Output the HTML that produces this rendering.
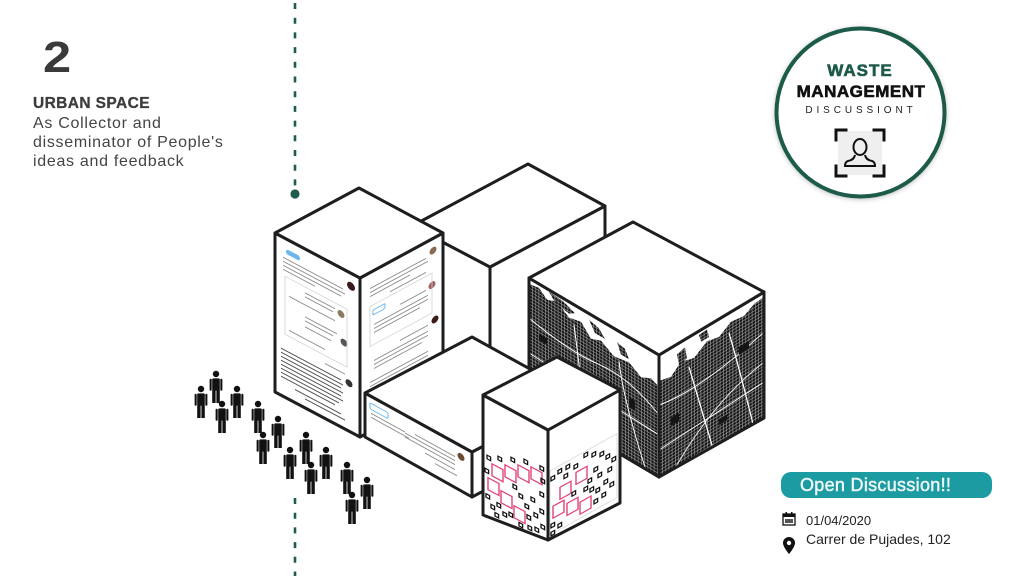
<!DOCTYPE html>
<html><head><meta charset="utf-8"><style>
html,body{margin:0;padding:0;background:#fff;}
body{width:1024px;height:576px;overflow:hidden;}
svg{display:block;}
</style></head><body>
<svg width="1024" height="576" viewBox="0 0 1024 576" xmlns="http://www.w3.org/2000/svg" font-family="Liberation Sans, sans-serif">
<defs>
  <g id="pp">
    <circle cx="0" cy="0" r="3.2"/>
    <rect x="-3.8" y="4.4" width="7.6" height="12.2" rx="1.2"/>
    <rect x="-6.4" y="4.8" width="2.1" height="12" rx="1"/>
    <rect x="4.3" y="4.8" width="2.1" height="12" rx="1"/>
    <rect x="-3.8" y="16" width="3.4" height="13"/>
    <rect x="0.4" y="16" width="3.4" height="13"/>
  </g>
  <pattern id="grid" width="3.2" height="3.2" patternUnits="userSpaceOnUse">
    <path d="M0 0.3H3.2M0.3 0V3.2" stroke="#fff" stroke-width="0.55" opacity="0.85"/>
  </pattern>
  <clipPath id="mapL"><polygon points="529,278 659,355 659,477 529,400"/></clipPath>
  <clipPath id="mapR"><polygon points="659,355 764,292 764,418 659,477"/></clipPath>
  <clipPath id="cubeL"><polygon points="483,395 548,430 548,540 483,515"/></clipPath>
  <clipPath id="cubeR"><polygon points="548,430 620,390 620,503 548,540"/></clipPath>
  <filter id="sh" x="-20%" y="-20%" width="140%" height="140%">
    <feDropShadow dx="0" dy="1" stdDeviation="2.5" flood-color="#000" flood-opacity="0.25"/>
  </filter>
</defs>

<!-- Left text -->
<text x="43" y="72" font-size="44" font-weight="bold" fill="#3a3a3a" transform="translate(43,0) scale(1.15,1) translate(-43,0)">2</text>
<text x="33" y="108" font-size="15.5" font-weight="bold" fill="#3c3c3c" stroke="#3c3c3c" stroke-width="0.3" letter-spacing="0.4">URBAN SPACE</text>
<g font-size="16" fill="#444" letter-spacing="0.7">
  <text x="33" y="128">As Collector and</text>
  <text x="33" y="147">disseminator of People's</text>
  <text x="33" y="166">ideas and feedback</text>
</g>

<!-- dashed line -->
<line x1="295" y1="3" x2="295" y2="188" stroke="#1f5c4d" stroke-width="2.6" stroke-dasharray="6 8.7"/>
<circle cx="295" cy="194" r="4.6" fill="#1f5c4d"/>
<line x1="295" y1="498" x2="295" y2="576" stroke="#1f5c4d" stroke-width="2.6" stroke-dasharray="6 8.7"/>

<g stroke="#1e1e1e" stroke-width="3" stroke-linejoin="round" fill="#fff">
  <!-- back box -->
  <polygon points="412,226 490,267 490,420 412,380"/>
  <polygon points="490,267 605,206 605,360 490,420"/>
  <polygon points="528,164 605,206 490,267 412,226"/>

  <!-- map box -->
  <polygon points="529,278 659,355 659,477 529,400"/>
  <polygon points="659,355 764,292 764,418 659,477"/>
</g>

<!-- map textures -->
<g clip-path="url(#mapL)">
  <g transform="matrix(1,0.592,0,1,529,278)">
    <polygon fill="#151515" points="0,6 10,4 18,11 28,7 40,16 52,13 62,24 72,20 85,28 100,25 112,33 122,28 130,32 130,130 0,130"/>
    <polygon fill="#151515" points="20,2 34,3 46,8 40,12 26,9"/>
    <polygon fill="#151515" points="60,6 70,9 76,16 66,16"/>
    <polygon fill="#151515" points="88,12 96,14 100,22 92,22"/>
    <rect x="0" y="0" width="130" height="130" fill="url(#grid)" opacity="0.75"/>
    <g stroke="#fff" fill="none" stroke-width="1.1">
      <path d="M0 40 Q40 50 70 45 T130 60"/>
      <path d="M45 20 L60 130"/>
      <path d="M0 75 L130 80"/>
      <path d="M90 30 Q95 70 120 130"/>
    </g>
    <g fill="#151515">
      <rect x="10" y="50" width="8" height="6"/><rect x="70" y="95" width="10" height="8"/>
      <rect x="100" y="60" width="6" height="10"/>
    </g>
  </g>
</g>
<g clip-path="url(#mapR)">
  <g transform="matrix(1,-0.6,0,1,659,355)">
    <polygon fill="#151515" points="0,26 12,29 22,20 35,24 48,15 60,18 72,10 85,12 95,6 105,5 105,130 0,130"/>
    <polygon fill="#151515" points="18,10 26,8 28,20 20,22"/>
    <polygon fill="#151515" points="40,4 48,3 50,12 42,12"/>
    <rect x="0" y="0" width="105" height="130" fill="url(#grid)" opacity="0.75"/>
    <g stroke="#fff" fill="none" stroke-width="1.1">
      <path d="M0 50 Q40 60 105 40"/>
      <path d="M30 30 L55 130"/>
      <path d="M0 95 L105 90"/>
      <path d="M70 20 Q80 60 95 130"/>
      <path d="M10 130 Q50 80 105 70"/>
    </g>
    <g fill="#151515">
      <rect x="12" y="70" width="8" height="8"/><rect x="80" y="40" width="10" height="8"/>
      <rect x="60" y="100" width="8" height="6"/>
    </g>
  </g>
</g>
<g stroke="#1e1e1e" stroke-width="3" stroke-linejoin="round" fill="none">
  <polygon points="529,278 659,355 659,477 529,400"/>
  <polygon points="659,355 764,292 764,418 659,477"/>
</g>
<polygon points="633,222 764,292 659,355 529,278" fill="#fff" stroke="#1e1e1e" stroke-width="3" stroke-linejoin="round"/>

<!-- tall tweet box -->
<g stroke="#1e1e1e" stroke-width="3" stroke-linejoin="round" fill="#fff">
  <polygon points="275,233 360,278 360,437 275,392"/>
  <polygon points="360,278 443,233 443,392 360,437"/>
  <polygon points="359,188 443,233 360,278 275,233"/>
</g>
<!-- tweets left face -->
<g transform="matrix(1,0.53,0,1,275,233)">
  <rect x="11" y="10" width="14" height="5" rx="2.5" fill="#6bb6ea"/>
  <circle cx="76" cy="13" r="4" fill="#3a1a1a"/>
  <circle cx="66" cy="46" r="3.5" fill="#8a7a60"/>
  <circle cx="69" cy="73" r="3.5" fill="#555"/>
  <circle cx="74" cy="111" r="3.5" fill="#333"/>
  <g stroke="#8a8a8a" stroke-width="1">
    <line x1="8" y1="20" x2="68" y2="20"/><line x1="8" y1="24" x2="70" y2="24"/>
    <line x1="8" y1="28" x2="66" y2="28"/><line x1="8" y1="32" x2="40" y2="32"/>
    <line x1="30" y1="44" x2="60" y2="44"/><line x1="30" y1="48" x2="58" y2="48"/>
    <line x1="14" y1="56" x2="60" y2="56"/><line x1="30" y1="68" x2="62" y2="68"/>
    <line x1="30" y1="72" x2="58" y2="72"/><line x1="30" y1="78" x2="56" y2="78"/>
    <line x1="14" y1="90" x2="50" y2="90"/><line x1="50" y1="104" x2="70" y2="104"/>
  </g>
  <rect x="10" y="38" width="62" height="58" fill="none" stroke="#cfcfcf" stroke-width="0.8"/>
  <g stroke="#555" stroke-width="1.1">
    <line x1="6" y1="112" x2="66" y2="112"/><line x1="6" y1="116" x2="68" y2="116"/>
    <line x1="6" y1="120" x2="66" y2="120"/><line x1="6" y1="124" x2="68" y2="124"/>
    <line x1="6" y1="128" x2="66" y2="128"/><line x1="6" y1="132" x2="68" y2="132"/>
    <line x1="6" y1="136" x2="64" y2="136"/><line x1="6" y1="140" x2="60" y2="140"/>
    <line x1="20" y1="146" x2="66" y2="146"/><line x1="30" y1="150" x2="70" y2="150"/>
  </g>
</g>
<!-- tweets right face -->
<g transform="matrix(1,-0.54,0,1,360,278)">
  <circle cx="73" cy="12" r="3.5" fill="#8a6a50"/>
  <circle cx="72" cy="46" r="3.5" fill="#a06060"/>
  <circle cx="75" cy="82" r="3.5" fill="#3a1a1a"/>
  <rect x="13" y="39" width="12" height="5" rx="1" fill="none" stroke="#6bb6ea" stroke-width="1"/>
  <g stroke="#8a8a8a" stroke-width="1">
    <line x1="10" y1="16" x2="66" y2="16"/><line x1="10" y1="20" x2="68" y2="20"/>
    <line x1="10" y1="24" x2="50" y2="24"/><line x1="30" y1="30" x2="66" y2="30"/>
    <line x1="40" y1="48" x2="66" y2="48"/><line x1="14" y1="54" x2="68" y2="54"/>
    <line x1="14" y1="58" x2="68" y2="58"/><line x1="14" y1="62" x2="60" y2="62"/>
    <line x1="40" y1="84" x2="68" y2="84"/><line x1="14" y1="90" x2="68" y2="90"/>
    <line x1="14" y1="94" x2="68" y2="94"/><line x1="14" y1="98" x2="62" y2="98"/>
    <line x1="10" y1="110" x2="68" y2="110"/><line x1="10" y1="114" x2="68" y2="114"/>
    <line x1="10" y1="118" x2="60" y2="118"/><line x1="20" y1="124" x2="50" y2="124"/>
  </g>
  <rect x="10" y="34" width="62" height="40" fill="none" stroke="#d0d0d0" stroke-width="0.8"/>
</g>

<!-- lower tweet box -->
<g stroke="#1e1e1e" stroke-width="3" stroke-linejoin="round" fill="#fff">
  <polygon points="365,393 472,452 472,497 365,437"/>
  <polygon points="472,452 579,396 579,441 472,497"/>
  <polygon points="472,337 579,396 472,452 365,393"/>
</g>
<g transform="matrix(1,0.551,0,1,365,393)">
  <rect x="5" y="7" width="18" height="6" rx="1.5" fill="none" stroke="#6bb6ea" stroke-width="1"/>
  <circle cx="96" cy="11" r="3.5" fill="#6a4a30"/>
  <g stroke="#8a8a8a" stroke-width="1">
    <line x1="6" y1="17" x2="40" y2="17"/><line x1="6" y1="21" x2="44" y2="21"/>
    <line x1="50" y1="14" x2="90" y2="14"/><line x1="40" y1="18" x2="90" y2="18"/>
    <line x1="40" y1="22" x2="90" y2="22"/><line x1="60" y1="27" x2="90" y2="27"/>
    <line x1="70" y1="32" x2="92" y2="32"/>
  </g>
</g>

<!-- cube -->
<g stroke="#1e1e1e" stroke-width="3" stroke-linejoin="round" fill="#fff">
  <polygon points="483,395 548,430 548,540 483,515"/>
  <polygon points="548,430 620,390 620,503 548,540"/>
  <polygon points="557,357 620,390 548,430 483,395"/>
</g>
<g clip-path="url(#cubeL)">
<g transform="matrix(1,0.538,0,1,483,395)">
  <g fill="none" stroke="#e2437c" stroke-width="1.4">
    <rect x="9" y="64" width="11" height="12"/><rect x="22" y="58" width="11" height="12"/>
    <rect x="35" y="51" width="11" height="12"/><rect x="48" y="46" width="11" height="12"/>
    <rect x="5" y="80" width="11" height="12"/><rect x="18" y="86" width="11" height="12"/>
    <rect x="31" y="94" width="11" height="12"/>
  </g>
  <g fill="none" stroke="#111" stroke-width="1.3">
    <rect x="4" y="58" width="3.6" height="3.6"/><rect x="15" y="53" width="3.6" height="3.6"/>
    <rect x="28" y="47" width="3.6" height="3.6"/><rect x="41" y="42" width="3.6" height="3.6"/>
    <rect x="57" y="40" width="3.6" height="3.6"/><rect x="58" y="52" width="3.6" height="3.6"/>
    <rect x="3" y="97" width="3.6" height="3.6"/><rect x="8" y="105" width="3.6" height="3.6"/>
    <rect x="14" y="100" width="3.6" height="3.6"/><rect x="20" y="106" width="3.6" height="3.6"/>
    <rect x="26" y="103" width="3.6" height="3.6"/><rect x="44" y="96" width="3.6" height="3.6"/>
    <rect x="51" y="90" width="3.6" height="3.6"/><rect x="57" y="83" width="3.6" height="3.6"/>
    <rect x="58" y="98" width="3.6" height="3.6"/><rect x="52" y="104" width="3.6" height="3.6"/>
    <rect x="45" y="106" width="3.6" height="3.6"/><rect x="42" y="86" width="3.6" height="3.6"/>
    <rect x="36" y="79" width="3.6" height="3.6"/><rect x="48" y="76" width="3.6" height="3.6"/>
    <rect x="57" y="66" width="3.6" height="3.6"/><rect x="30" y="73" width="3.6" height="3.6"/>
    <rect x="2" y="72" width="3.6" height="3.6"/><rect x="36" y="108" width="3.6" height="3.6"/>
    <rect x="12" y="111" width="3.6" height="3.6"/>
  </g>
</g>
</g>
<g clip-path="url(#cubeR)">
<g transform="matrix(1,-0.556,0,1,548,434)">
  <rect x="2" y="38" width="67" height="64" fill="none" stroke="#d4d4d4" stroke-width="0.8"/>
  <g fill="none" stroke="#e2437c" stroke-width="1.4">
    <rect x="28" y="54" width="11" height="12"/><rect x="12" y="60" width="11" height="12"/>
    <rect x="5" y="75" width="11" height="12"/><rect x="19" y="80" width="11" height="12"/>
    <rect x="32" y="86" width="11" height="12"/>
  </g>
  <g fill="none" stroke="#111" stroke-width="1.3">
    <rect x="3" y="45" width="3.6" height="3.6"/><rect x="10" y="42" width="3.6" height="3.6"/>
    <rect x="18" y="42" width="3.6" height="3.6"/><rect x="26" y="46" width="3.6" height="3.6"/>
    <rect x="36" y="40" width="3.6" height="3.6"/><rect x="44" y="44" width="3.6" height="3.6"/>
    <rect x="52" y="48" width="3.6" height="3.6"/><rect x="58" y="54" width="3.6" height="3.6"/>
    <rect x="64" y="60" width="3.6" height="3.6"/><rect x="46" y="60" width="3.6" height="3.6"/>
    <rect x="40" y="68" width="3.6" height="3.6"/><rect x="50" y="68" width="3.6" height="3.6"/>
    <rect x="60" y="68" width="3.6" height="3.6"/><rect x="56" y="78" width="3.6" height="3.6"/>
    <rect x="48" y="82" width="3.6" height="3.6"/><rect x="62" y="84" width="3.6" height="3.6"/>
    <rect x="46" y="92" width="3.6" height="3.6"/><rect x="54" y="90" width="3.6" height="3.6"/>
    <rect x="3" y="92" width="3.6" height="3.6"/><rect x="10" y="96" width="3.6" height="3.6"/>
    <rect x="3" y="100" width="3.6" height="3.6"/><rect x="42" y="78" width="3.6" height="3.6"/>
    <rect x="16" y="50" width="3.6" height="3.6"/><rect x="24" y="72" width="3.6" height="3.6"/>
    <rect x="36" y="74" width="3.6" height="3.6"/>
  </g>
</g>
</g>

<!-- people -->
<g fill="#111">
  <use href="#pp" x="216" y="374"/><use href="#pp" x="201" y="389"/>
  <use href="#pp" x="237" y="389"/><use href="#pp" x="222" y="404"/>
  <use href="#pp" x="258" y="404"/><use href="#pp" x="278" y="419"/>
  <use href="#pp" x="263" y="435"/><use href="#pp" x="306" y="435"/>
  <use href="#pp" x="290" y="450"/><use href="#pp" x="326" y="450"/>
  <use href="#pp" x="311" y="465"/><use href="#pp" x="347" y="465"/>
  <use href="#pp" x="367" y="480"/><use href="#pp" x="352" y="495"/>
</g>

<!-- circle badge -->
<circle cx="860.5" cy="112.5" r="84" fill="#fff" stroke="#1d5a4a" stroke-width="4" filter="url(#sh)"/>
<text x="860" y="76" text-anchor="middle" font-size="17" font-weight="bold" fill="#1d5a4a" stroke="#1d5a4a" stroke-width="0.6" letter-spacing="1">WASTE</text>
<text x="861" y="97" text-anchor="middle" font-size="17" font-weight="bold" fill="#111" stroke="#111" stroke-width="0.6" letter-spacing="0.5">MANAGEMENT</text>
<text x="861" y="113" text-anchor="middle" font-size="10" fill="#222" letter-spacing="3.9">DISCUSSIONT</text>
<rect x="838" y="131" width="44" height="44" fill="#efefef"/>
<g stroke="#111" stroke-width="3" fill="none" stroke-linecap="square">
  <path d="M836 140V130H846"/><path d="M874 130H884V140"/>
  <path d="M836 166V176H846"/><path d="M874 176H884V166"/>
</g>
<g stroke="#111" stroke-width="2" fill="none">
  <ellipse cx="860" cy="147" rx="6.5" ry="8"/>
  <path d="M855 155 Q854 160 848 161 Q845 162 845 166 H875 Q875 162 872 161 Q866 160 865 155"/>
</g>

<!-- button -->
<rect x="781" y="472" width="211" height="26" rx="10" fill="#1d9ba2"/>
<text x="800" y="491" font-size="18" fill="#eef8f8" stroke="#eef8f8" stroke-width="0.45" letter-spacing="0.3">Open Discussion!!</text>

<!-- date / location -->
<g fill="#111">
  <rect x="783" y="514" width="12" height="11" fill="none" stroke="#111" stroke-width="1.3"/>
  <rect x="783" y="514" width="12" height="3"/>
  <rect x="785.5" y="512" width="1.5" height="3"/><rect x="791" y="512" width="1.5" height="3"/>
  <g fill="#555"><rect x="785" y="519" width="8" height="4"/></g>
  <path d="M789 537 a6 6 0 0 1 6 6 c0 4 -6 11 -6 11 s-6 -7 -6 -11 a6 6 0 0 1 6 -6z"/>
  <circle cx="789" cy="543" r="2.2" fill="#fff"/>
</g>
<text x="806" y="525" font-size="13" fill="#222">01/04/2020</text>
<text x="806" y="544" font-size="14" fill="#222">Carrer de Pujades, 102</text>
</svg>
</body></html>
